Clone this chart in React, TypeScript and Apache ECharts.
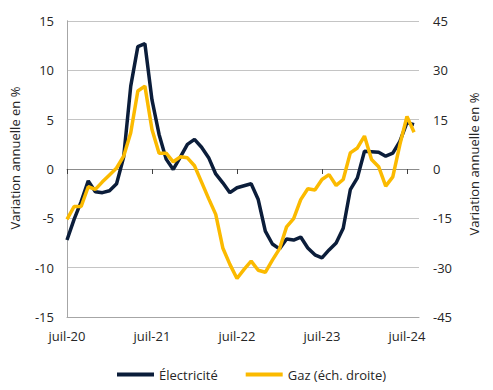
import React, { useEffect, useRef } from "react";
import * as echarts from "echarts";

// Monthly values, juil-20 (index 0) to août-24 (index 49)
const monthTicks = [0, 12, 24, 36, 48];
const tickLabels = ["juil-20", "juil-21", "juil-22", "juil-23", "juil-24"];

const electricite = [
  -7.2, -5.1, -3.3, -1.2, -2.3, -2.4, -2.2, -1.5, 1.2, 8.4,
  12.4, 12.7, 7.0, 3.5, 1.0, -0.05, 1.2, 2.5, 3.0, 2.2,
  1.15, -0.5, -1.4, -2.4, -1.9, -1.7, -1.5, -3.1, -6.3, -7.6,
  -8.1, -7.1, -7.2, -6.9, -8.0, -8.7, -9.0, -8.2, -7.5, -6.0,
  -2.1, -0.9, 1.8, 1.75, 1.7, 1.3, 1.6, 2.8, 4.7, 4.5,
];

const gaz = [
  -15.3, -11.4, -11.4, -5.4, -6.2, -3.9, -1.8, 0.3, 3.9, 11,
  23.7, 25.2, 12, 4.8, 4.8, 2.2, 3.7, 3.4, 1.0, -4.0,
  -9.0, -13.8, -24, -29, -33.3, -30.5, -28, -30.8, -31.4, -27.7,
  -24.3, -17.6, -15.1, -9.3, -6.0, -6.4, -3.2, -1.7, -5.0, -3.2,
  4.9, 6.4, 10, 2.9, 0.7, -5.2, -2.4, 7.4, 16, 11.2,
];

const FONT = "Open Sans";
const TEXT = "#262626";

export default function App() {
  const ref = useRef<HTMLDivElement>(null);
  useEffect(() => {
    if (!ref.current) return;
    const chart = echarts.init(ref.current, undefined, { renderer: "svg" });
    const toPairs = (arr: number[]) => arr.map((v, i) => [i, v]);
    const labelFor = (v: number) => {
      const k = monthTicks.indexOf(v);
      return k >= 0 ? tickLabels[k] : "";
    };
    chart.setOption({
      animation: false,
      textStyle: { fontFamily: FONT },
      grid: { left: 67, right: 74, top: 21, bottom: 73 },
      legend: {
        bottom: 4,
        left: 112,
        itemWidth: 37,
        itemHeight: 4,
        itemGap: 28,
        icon: "rect",
        textStyle: { fontFamily: FONT, fontSize: 13, color: TEXT },
        data: ["Électricité", "Gaz (éch. droite)"],
      },
      xAxis: [
        {
          type: "value",
          min: 0,
          max: 49.7,
          axisLine: { onZero: false, lineStyle: { color: "#a6a6a6", width: 1 } },
          axisTick: { show: false },
          splitLine: { show: false },
          axisLabel: {
            customValues: monthTicks,
            formatter: (v: number) => labelFor(v),
            margin: 12,
            fontFamily: FONT,
            fontSize: 13,
            color: TEXT,
          },
        },
        {
          type: "value",
          position: "bottom",
          min: 0,
          max: 49.7,
          axisLine: { onZero: true, onZeroAxisIndex: 0, lineStyle: { color: "#8c8c8c", width: 1 } },
          axisTick: { show: true, customValues: monthTicks, length: 5, lineStyle: { color: "#404040" } },
          axisLabel: { show: false },
          splitLine: { show: false },
        },
      ],
      yAxis: [
        {
          type: "value",
          min: -15,
          max: 15,
          interval: 5,
          name: "Variation annuelle en %",
          nameLocation: "middle",
          nameGap: 46,
          nameTextStyle: { fontFamily: FONT, fontSize: 13, color: TEXT, padding: [0, 0, 0, 22] },
          axisLine: { show: true, lineStyle: { color: "#a6a6a6" } },
          axisTick: { show: false },
          axisLabel: { fontFamily: FONT, fontSize: 13, color: TEXT, margin: 13 },
          splitLine: { lineStyle: { color: "#c4c4c4", width: 1 } },
        },
        {
          type: "value",
          min: -45,
          max: 45,
          interval: 15,
          position: "right",
          name: "Variation annuelle en %",
          nameLocation: "middle",
          nameGap: 48,
          nameTextStyle: { fontFamily: FONT, fontSize: 13, color: TEXT, padding: [0, 0, 0, 10] },
          axisLine: { show: true, lineStyle: { color: "#a6a6a6" } },
          axisTick: { show: false },
          axisLabel: { fontFamily: FONT, fontSize: 13, color: TEXT, margin: 14 },
          splitLine: { show: false },
        },
      ],
      series: [
        {
          name: "Électricité",
          type: "line",
          xAxisIndex: 0,
          yAxisIndex: 0,
          data: toPairs(electricite),
          showSymbol: false,
          symbol: "none",
          lineStyle: { color: "#0b1d3a", width: 3.5 },
          itemStyle: { color: "#0b1d3a" },
          z: 3,
        },
        {
          name: "Gaz (éch. droite)",
          type: "line",
          xAxisIndex: 0,
          yAxisIndex: 1,
          data: toPairs(gaz),
          showSymbol: false,
          symbol: "none",
          lineStyle: { color: "#fbba00", width: 3.5 },
          itemStyle: { color: "#fbba00" },
          z: 4,
        },
      ],
    });
    return () => chart.dispose();
  }, []);
  return (
    <div
      ref={ref}
      style={{ position: "fixed", left: 0, top: 0, width: 493, height: 390, background: "#fff" }}
    />
  );
}
